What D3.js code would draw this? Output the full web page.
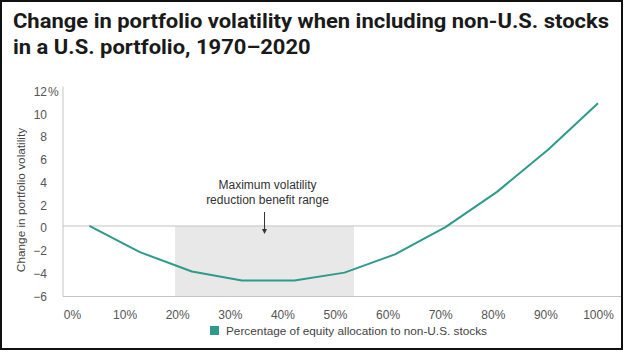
<!DOCTYPE html>
<html><head><meta charset="utf-8">
<script src="https://cdn.jsdelivr.net/npm/d3@7"></script>
<style>body{margin:0;background:#fff}svg{display:block}</style>
</head><body>
<svg id="chart" width="626" height="352"></svg>
<script>
// ---- data ----
const allocation = [3.3, 12.9, 22.8, 32.3, 42.3, 51.8, 61.4, 71.0, 80.8, 90.5, 100];
const volatilityChange = [0.0, -2.3, -4.0, -4.8, -4.8, -4.1, -2.5, -0.1, 3.0, 6.7, 10.8];
const xTickValues = [0, 10, 20, 30, 40, 50, 60, 70, 80, 90, 100];
const yTickValues = [-6, -4, -2, 0, 2, 4, 6, 8, 10, 12];
const benefitRange = [19.6, 53.6];
const titleLines = ["Change in portfolio volatility when including non-U.S. stocks", "in a U.S. portfolio, 1970\u20132020"];
const yAxisTitle = "Change in portfolio volatility";
const annotationLines = ["Maximum volatility", "reduction benefit range"];
const legendLabel = "Percentage of equity allocation to non-U.S. stocks";

const teal = "#2c9b8c";
const svg = d3.select("#chart");
const font = "'Liberation Sans', Arial, sans-serif";

// frame
svg.append("rect").attr("x", 1).attr("y", 1).attr("width", 621).attr("height", 348)
  .attr("fill", "#fff").attr("stroke", "#111").attr("stroke-width", 2);

// title
const title = svg.append("g");
titleLines.forEach((t, i) => {
  const el = title.append("text").attr("x", 13).attr("y", 28 + i * 25.5)
    .attr("font-family", "Roboto, 'Liberation Sans', sans-serif").attr("font-weight", 700)
    .attr("font-size", 19.5).attr("fill", "#1a1a1a").text(t);
});
// fit first line to reference width
{
  const first = title.select("text").node();
  const w = first.getComputedTextLength();
  const target = 596;
  const k = target / w;
  title.selectAll("text").each(function () {
    const len = this.getComputedTextLength();
    d3.select(this).attr("textLength", len * k).attr("lengthAdjust", "spacingAndGlyphs");
  });
}

const x = d3.scaleLinear().domain([0, 100]).range([72, 598]);
const y = d3.scaleLinear().domain([-6.2, 12]).range([296.5, 89.5]);
const plotLeft = 63, plotRight = 621;

// shaded benefit range
svg.append("rect")
  .attr("x", x(benefitRange[0])).attr("width", x(benefitRange[1]) - x(benefitRange[0]))
  .attr("y", y(0)).attr("height", y(y.domain()[0]) - y(0))
  .attr("fill", "#e8e8e8");

// zero line and baseline
svg.append("line").attr("x1", plotLeft).attr("x2", plotRight).attr("y1", y(0)).attr("y2", y(0))
  .attr("stroke", "#c4c4c4").attr("stroke-width", 1);
svg.append("line").attr("x1", plotLeft).attr("x2", plotRight)
  .attr("y1", y(y.domain()[0])).attr("y2", y(y.domain()[0]))
  .attr("stroke", "#c4c4c4").attr("stroke-width", 1);

// y axis
const yAxis = svg.append("g").attr("transform", `translate(${plotLeft},0)`)
  .call(d3.axisLeft(y).tickValues(yTickValues).tickSize(0).tickPadding(16)
    .tickFormat(d => d < 0 ? "\u2212" + Math.abs(d) : String(d)));
yAxis.select(".domain").attr("d", `M0,${y(12) - 3}V${y(y.domain()[0])}`).attr("stroke", "#c4c4c4");
yAxis.selectAll("text").attr("font-family", font).attr("font-size", 12).attr("fill", "#555").attr("dy", "0.5em");
yAxis.selectAll(".tick").filter(d => d === 12).append("text")
  .attr("x", -15).attr("dy", "0.5em").attr("text-anchor", "start")
  .attr("font-family", font).attr("font-size", 12).attr("fill", "#555").text("%");

// x axis
const xAxis = svg.append("g").attr("transform", `translate(0,${y(y.domain()[0])})`)
  .call(d3.axisBottom(x).tickValues(xTickValues).tickSize(0).tickPadding(14).tickFormat(d => d + "%"));
xAxis.select(".domain").remove();
xAxis.selectAll("text").attr("font-family", font).attr("font-size", 12).attr("fill", "#555");

// y axis title
svg.append("text").attr("transform", "translate(25,200) rotate(-90)")
  .attr("text-anchor", "middle").attr("font-family", font).attr("font-size", 11.8)
  .attr("fill", "#444").text(yAxisTitle);

// line
const pts = allocation.map((a, i) => [a, volatilityChange[i]]);
svg.append("path").datum(pts)
  .attr("d", d3.line().x(d => x(d[0])).y(d => y(d[1])))
  .attr("fill", "none").attr("stroke", teal).attr("stroke-width", 2)
  .attr("stroke-linejoin", "round");

// annotation
const mid = (benefitRange[0] + benefitRange[1]) / 2;
annotationLines.forEach((t, i) => {
  svg.append("text").attr("x", x(mid) + 3).attr("y", 189 + i * 15)
    .attr("text-anchor", "middle").attr("font-family", font).attr("font-size", 12)
    .attr("fill", "#333").text(t);
});
svg.append("line").attr("x1", x(mid)).attr("x2", x(mid)).attr("y1", 212).attr("y2", 230)
  .attr("stroke", "#333").attr("stroke-width", 1);
svg.append("path").attr("d", `M${x(mid) - 2.5},229L${x(mid) + 2.5},229L${x(mid)},234Z`).attr("fill", "#333");

// legend
svg.append("rect").attr("x", 210).attr("y", 326).attr("width", 9).attr("height", 9).attr("fill", teal);
svg.append("text").attr("x", 226).attr("y", 334.5).attr("font-family", font).attr("font-size", 11.8)
  .attr("fill", "#444").text(legendLabel);
</script>
</body></html>
